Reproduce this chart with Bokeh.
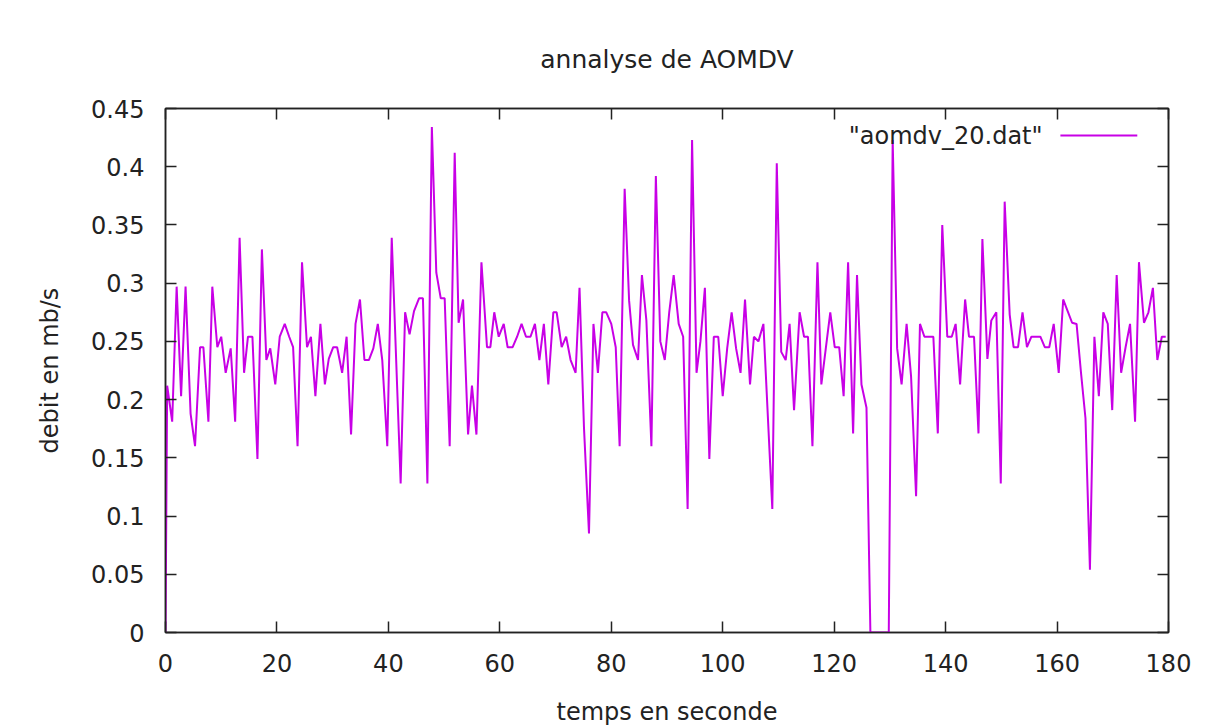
from bokeh.plotting import figure
from bokeh.models import Range1d, LinearAxis, FixedTicker, CustomJSTickFormatter, Label, Arrow
from bokeh.embed import file_html
from bokeh.resources import INLINE

# ---- data ----
time_s = [0.0, 0.3, 1.2, 2.0, 2.8, 3.6, 4.5, 5.3, 6.2, 6.8, 7.7, 8.4, 9.3, 10.0, 10.8, 11.7,
          12.5, 13.3, 14.1, 14.8, 15.6, 16.5, 17.3, 18.1, 18.8, 19.7, 20.5, 21.4, 22.2, 22.9,
          23.7, 24.5, 25.4, 26.1, 26.9, 27.8, 28.6, 29.3, 30.1, 30.8, 31.7, 32.5, 33.3, 34.1,
          34.9, 35.7, 36.5, 37.3, 38.1, 38.9, 39.8, 40.6, 42.2, 43.0, 43.8, 44.6, 45.5, 46.2,
          47.0, 47.8, 48.6, 49.4, 50.1, 51.0, 51.9, 52.6, 53.4, 54.3, 55.0, 55.8, 56.7, 57.7,
          58.3, 59.0, 59.8, 60.7, 61.4, 62.3, 63.1, 63.9, 64.7, 65.5, 66.3, 67.1, 67.9, 68.7,
          69.6, 70.2, 71.1, 71.9, 72.7, 73.6, 74.3, 75.1, 76.0, 76.8, 77.6, 78.4, 79.1, 80.0,
          80.8, 81.5, 82.4, 83.2, 83.9, 84.8, 85.5, 86.3, 87.2, 88.0, 88.8, 89.6, 90.4, 91.2,
          92.1, 92.9, 93.7, 94.5, 95.3, 96.0, 96.8, 97.6, 98.4, 99.2, 100.0, 100.8, 101.6,
          102.4, 103.2, 104.0, 104.9, 105.6, 106.4, 107.3, 108.9, 109.7, 110.5, 111.3, 112.0,
          112.8, 113.8, 114.6, 115.3, 116.1, 117.0, 117.7, 118.5, 119.3, 120.1, 120.9, 121.7,
          122.5, 123.4, 124.1, 124.9, 125.8, 126.5, 129.8, 130.5, 131.3, 132.1, 133.0, 133.8,
          134.7, 135.4, 136.2, 137.0, 137.8, 138.6, 139.4, 140.3, 141.1, 141.8, 142.6, 143.5,
          144.2, 145.1, 145.9, 146.6, 147.5, 148.2, 149.1, 149.9, 150.6, 151.5, 152.2, 153.0,
          153.8, 154.6, 155.4, 156.2, 157.0, 157.8, 158.6, 159.4, 160.3, 161.1, 161.9, 162.7,
          163.5, 164.3, 165.1, 165.9, 166.7, 167.5, 168.3, 169.1, 169.9, 170.7, 171.5, 172.3,
          173.1, 174.0, 174.7, 175.6, 176.4, 177.2, 178.0, 178.8, 179.5]

debit = [0.0, 0.212, 0.181, 0.297, 0.203, 0.297, 0.188, 0.160, 0.245, 0.245, 0.181, 0.297,
         0.245, 0.254, 0.223, 0.244, 0.181, 0.339, 0.223, 0.254, 0.254, 0.149, 0.329, 0.234,
         0.244, 0.213, 0.254, 0.265, 0.254, 0.245, 0.160, 0.318, 0.245, 0.254, 0.203, 0.265,
         0.213, 0.235, 0.245, 0.245, 0.223, 0.254, 0.170, 0.265, 0.286, 0.234, 0.234, 0.244,
         0.265, 0.234, 0.160, 0.339, 0.128, 0.275, 0.256, 0.276, 0.287, 0.287, 0.128, 0.434,
         0.309, 0.287, 0.287, 0.160, 0.412, 0.266, 0.286, 0.170, 0.212, 0.170, 0.318, 0.245,
         0.245, 0.275, 0.254, 0.265, 0.245, 0.245, 0.254, 0.265, 0.254, 0.254, 0.265, 0.234,
         0.265, 0.213, 0.275, 0.275, 0.245, 0.254, 0.234, 0.223, 0.296, 0.176, 0.085, 0.265,
         0.223, 0.275, 0.275, 0.265, 0.245, 0.160, 0.381, 0.285, 0.247, 0.234, 0.307, 0.268,
         0.160, 0.392, 0.250, 0.234, 0.275, 0.307, 0.265, 0.254, 0.106, 0.423, 0.223, 0.250,
         0.296, 0.149, 0.254, 0.254, 0.203, 0.244, 0.275, 0.244, 0.223, 0.286, 0.213, 0.254,
         0.250, 0.265, 0.106, 0.403, 0.241, 0.234, 0.265, 0.191, 0.275, 0.254, 0.254, 0.160,
         0.318, 0.213, 0.244, 0.275, 0.245, 0.245, 0.203, 0.318, 0.171, 0.307, 0.213, 0.193,
         0.0, 0.0, 0.423, 0.244, 0.213, 0.265, 0.220, 0.117, 0.265, 0.254, 0.254, 0.254,
         0.171, 0.350, 0.254, 0.254, 0.265, 0.213, 0.286, 0.254, 0.254, 0.171, 0.338, 0.235,
         0.268, 0.275, 0.128, 0.370, 0.273, 0.245, 0.245, 0.275, 0.245, 0.254, 0.254, 0.254,
         0.245, 0.245, 0.265, 0.223, 0.286, 0.276, 0.266, 0.265, 0.223, 0.184, 0.054, 0.254,
         0.203, 0.275, 0.265, 0.191, 0.307, 0.223, 0.245, 0.265, 0.181, 0.318, 0.266, 0.275,
         0.296, 0.234, 0.254, 0.254]

x_ticks = [0, 20, 40, 60, 80, 100, 120, 140, 160, 180]
y_ticks = [0.0, 0.05, 0.1, 0.15, 0.2, 0.25, 0.3, 0.35, 0.4, 0.45]
y_tick_labels = ["0", "0.05", "0.1", "0.15", "0.2", "0.25", "0.3", "0.35", "0.4", "0.45"]

series_name = '"aomdv_20.dat"'
title_text = "annalyse de AOMDV"
x_label = "temps en seconde"
y_label = "debit en mb/s"

# ---- styles ----
LINE_COLOR = "#c800e6"
TICK_FONT = "DejaVu Sans"
LABEL_FONT = "DejaVu Sans"
FS = "24px"
INK = "#222222"

p = figure(width=1215, height=728,
           x_range=Range1d(0, 180), y_range=Range1d(0, 0.45),
           output_backend="svg", toolbar_location=None,
           min_border_left=165, min_border_right=47,
           min_border_top=108, min_border_bottom=96,
           title=title_text)

p.grid.visible = False
p.background_fill_color = "white"
p.border_fill_color = "white"
p.outline_line_color = INK
p.outline_line_width = 1.5

p.title.align = "center"
p.title.text_font = LABEL_FONT
p.title.text_font_size = "25px"
p.title.text_font_style = "normal"
p.title.text_color = INK
p.title.standoff = 70


def style_axis(ax, ticks, show_labels):
    ax.ticker = FixedTicker(ticks=ticks)
    ax.major_tick_in = 11
    ax.major_tick_out = 0
    ax.minor_tick_in = 0
    ax.minor_tick_out = 0
    ax.axis_line_color = INK
    ax.axis_line_width = 1.5
    ax.major_tick_line_color = INK
    ax.major_tick_line_width = 1.5
    ax.major_label_text_font = TICK_FONT
    ax.major_label_text_font_size = FS
    ax.major_label_text_color = INK
    if not show_labels:
        ax.formatter = CustomJSTickFormatter(code="return ''")
        ax.major_label_standoff = 0


xa = p.xaxis[0]
style_axis(xa, x_ticks, True)
xa.major_label_standoff = 21
xa.axis_label = x_label
xa.axis_label_text_font = LABEL_FONT
xa.axis_label_text_font_size = FS
xa.axis_label_text_font_style = "normal"
xa.axis_label_text_color = INK
xa.axis_label_standoff = 23

ya = p.yaxis[0]
style_axis(ya, y_ticks, True)
ya.major_label_overrides = {t: s for t, s in zip(y_ticks, y_tick_labels)}
ya.major_label_standoff = 21
ya.axis_label = y_label
ya.axis_label_text_font = LABEL_FONT
ya.axis_label_text_font_size = FS
ya.axis_label_text_font_style = "normal"
ya.axis_label_text_color = INK
ya.axis_label_standoff = 24

top_ax = LinearAxis()
style_axis(top_ax, x_ticks, False)
p.add_layout(top_ax, "above")
right_ax = LinearAxis()
style_axis(right_ax, y_ticks, False)
p.add_layout(right_ax, "right")

p.line(time_s, debit, line_color=LINE_COLOR, line_width=2)

# gnuplot-style key: text, then line sample (positions are layout constants)
KEY_TEXT_X, KEY_Y = 157.4, 0.4268
KEY_LINE_X0, KEY_LINE_X1 = 160.6, 174.4
p.add_layout(Label(x=KEY_TEXT_X, y=KEY_Y, text=series_name, text_align="right",
                   text_baseline="middle", text_font=TICK_FONT, text_font_size=FS,
                   text_color=INK))
p.add_layout(Arrow(end=None, x_start=KEY_LINE_X0, y_start=KEY_Y, x_end=KEY_LINE_X1,
                   y_end=KEY_Y, line_color=LINE_COLOR, line_width=2))

open("out.html", "w").write(file_html(p, INLINE))
